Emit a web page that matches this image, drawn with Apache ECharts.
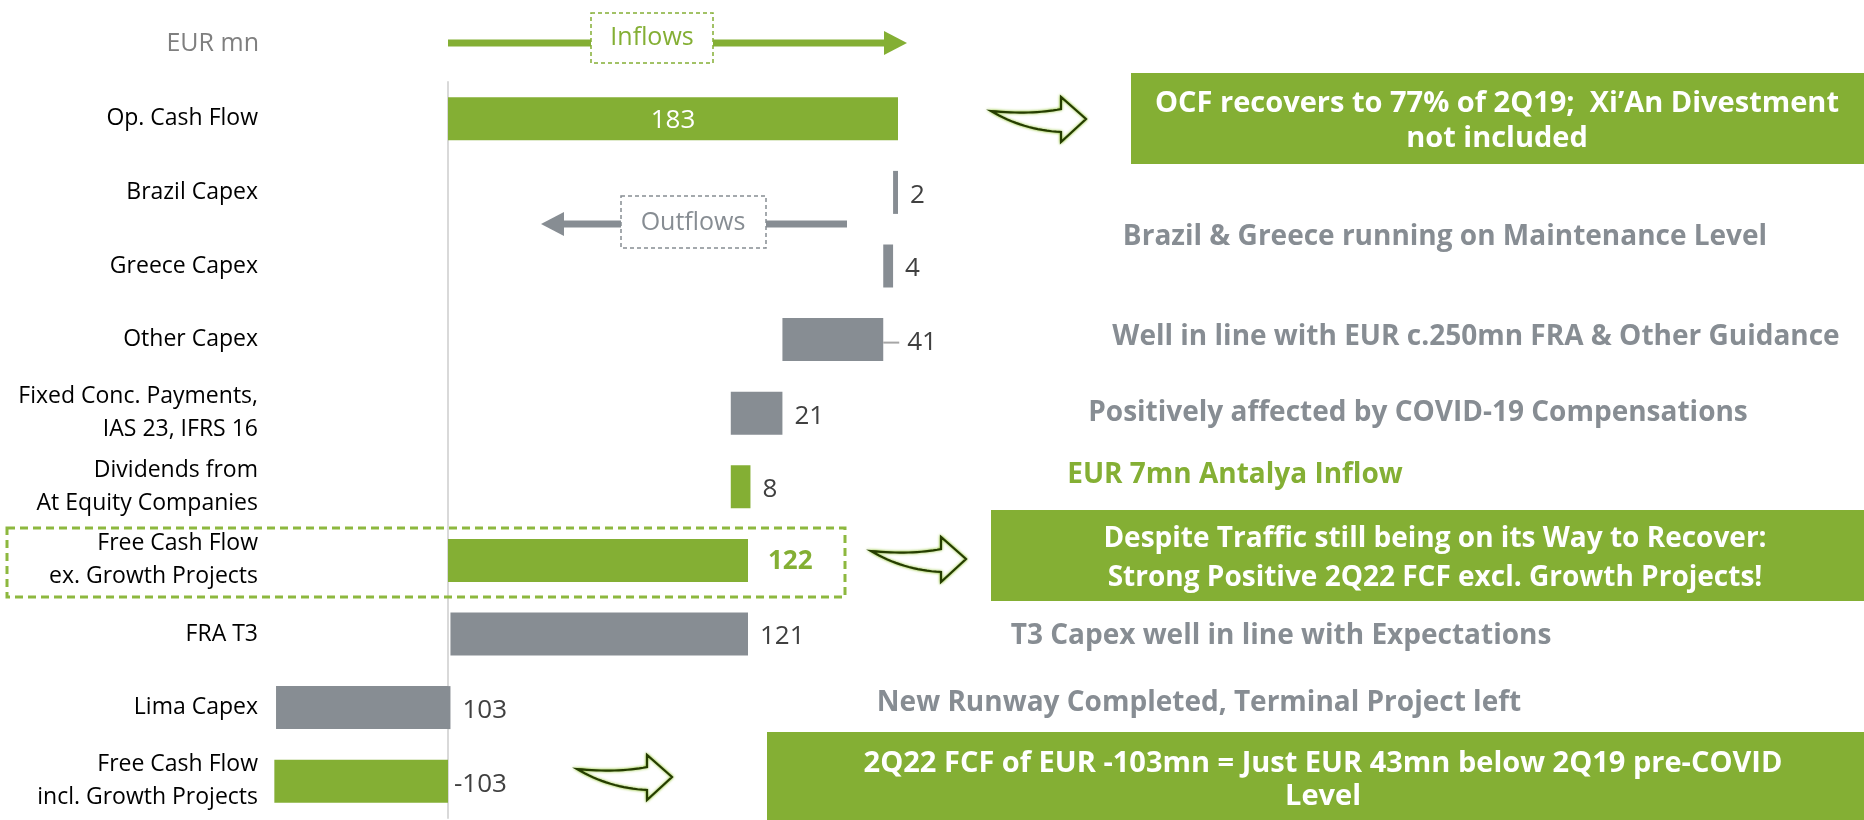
<!DOCTYPE html>
<html><head><meta charset="utf-8">
<script src="https://cdn.jsdelivr.net/npm/echarts@6/dist/echarts.min.js"></script>
<style>html,body{margin:0;padding:0;background:#fff}#c{width:1864px;height:820px}</style>
</head><body><div id="c"></div>
<script>
// ---------- data ----------
const categories = ['Op. Cash Flow', 'Brazil Capex', 'Greece Capex', 'Other Capex',
  'Fixed Conc. Payments,\nIAS 23, IFRS 16', 'Dividends from\nAt Equity Companies',
  'Free Cash Flow\nex. Growth Projects', 'FRA T3', 'Lima Capex', 'Free Cash Flow\nincl. Growth Projects'];
const values = [183, -2, -4, -41, -21, 8, 122, -121, -103, -103];
const isTotal = [true, false, false, false, false, false, true, false, false, true];
const valueLabels = ['183', '2', '4', '41', '21', '8', '122', '121', '103', '-103'];
const unitLabel = 'EUR mn';
const inflowText = 'Inflows';
const outflowText = 'Outflows';
const boxNotes = [
  'OCF recovers to 77% of 2Q19;  Xi\u2019An Divestment\nnot included',
  'Despite Traffic still being on its Way to Recover:\nStrong Positive 2Q22 FCF excl. Growth Projects!',
  '2Q22 FCF of EUR -103mn = Just EUR 43mn below 2Q19 pre-COVID\nLevel'
];
const grayNotes = [
  'Brazil & Greece running on Maintenance Level',
  'Well in line with EUR c.250mn FRA & Other Guidance',
  'Positively affected by COVID-19 Compensations',
  'T3 Capex well in line with Expectations',
  'New Runway Completed, Terminal Project left'
];
const greenNote = 'EUR 7mn Antalya Inflow';

// ---------- waterfall ranges ----------
const lows = [], highs = [];
let running = 0;
values.forEach((v, i) => {
  if (isTotal[i]) { lows.push(Math.min(0, v)); highs.push(Math.max(0, v)); running = v; }
  else { const s = running, e = running + v; lows.push(Math.min(s, e)); highs.push(Math.max(s, e)); running = e; }
});

// ---------- style ----------
const GREEN = '#84AF34', GRAY = '#878D93', TXT = '#404040', NOTE = '#878D93';
const FONT = '"Open Sans", "Noto Sans", sans-serif';
const AX = 448;           // zero line
const PXR = 2.459;        // px per unit (positive side)
const RMAX = 200;
const PXL = 1.686;        // px per unit (compressed negative side)
const LMIN = -120;
const TOP = 82, H = 736;
const VFS = 26;           // value label font size
const LOFF = [0, 3];

const colorOf = i => (isTotal[i] || values[i] > 0) ? GREEN : GRAY;

function labelFor(i) {
  if (i === 0) return { show: true, position: 'inside', offset: [0, 2], color: '#fff', fontSize: VFS, fontFamily: FONT, formatter: valueLabels[i] };
  if (isTotal[i] && values[i] > 0) return { show: true, position: 'right', distance: 20, offset: [0, 1], color: GREEN, fontWeight: 'bold', fontSize: 26, fontFamily: FONT, formatter: valueLabels[i] };
  if (categories[i] === 'Other Capex') return {
    show: true, position: 'right', distance: 0, offset: LOFF, fontFamily: FONT,
    formatter: '{ld|}{t|' + valueLabels[i] + '}',
    rich: { ld: { width: 16, height: 2, backgroundColor: '#A6A6A6' }, t: { color: TXT, fontSize: VFS, fontFamily: FONT, padding: [0, 0, 0, 8] } }
  };
  return { show: true, position: 'right', distance: isTotal[i] ? 6 : 12, offset: LOFF, color: TXT, fontSize: VFS, fontFamily: FONT, formatter: valueLabels[i] };
}

const baseR = [], barR = [], baseL = [], barL = [];
values.forEach((v, i) => {
  const lo = lows[i], hi = highs[i];
  const rLo = Math.max(lo, 0), rHi = Math.max(hi, 0);
  const lLo = Math.min(lo, 0), lHi = Math.min(hi, 0);
  const labelOnRight = hi > 0;
  if (rHi > rLo) {
    baseR.push(rLo);
    barR.push({ value: rHi - rLo, itemStyle: { color: colorOf(i) }, label: labelOnRight ? labelFor(i) : { show: false } });
  } else { baseR.push('-'); barR.push('-'); }
  if (lHi > lLo) {
    baseL.push(lHi);
    barL.push({ value: lLo - lHi, itemStyle: { color: colorOf(i) }, label: !labelOnRight ? labelFor(i) : { show: false } });
  } else { baseL.push('-'); barL.push('-'); }
});

// ---------- curved hollow arrow (outline polygon) ----------
function quad(p0, c, p1, n) {
  const pts = [];
  for (let k = 0; k <= n; k++) {
    const t = k / n, u = 1 - t;
    pts.push([u * u * p0[0] + 2 * u * t * c[0] + t * t * p1[0], u * u * p0[1] + 2 * u * t * c[1] + t * t * p1[1]]);
  }
  return pts;
}
function curvedArrow(x, y) {
  const pts = [].concat(
    quad([0, 14], [40, 18], [70, 12], 16),
    [[70, 0], [95, 22], [70, 45], [70, 35]],
    quad([70, 35], [32, 33], [0, 14], 16).slice(1)
  ).map(p => [p[0] + x, p[1] + y]);
  return { type: 'polygon', z: 10, shape: { points: pts },
    style: { fill: '#fff', stroke: '#253d00', lineWidth: 2.2, lineJoin: 'miter', shadowBlur: 3, shadowColor: '#8cbf2a' } };
}
const txt = (x, y, text, color, size, weight, align, lh) => ({
  type: 'text', x: x, y: y, z: 11,
  style: { text: text, fill: color, font: (weight || 'normal') + ' ' + size + 'px ' + FONT,
    align: align || 'center', textAlign: align || 'center', verticalAlign: 'middle', textVerticalAlign: 'middle',
    lineHeight: lh || Math.round(size * 1.3) }
});

const option = {
  backgroundColor: '#fff',
  animation: false,
  grid: [
    { left: AX, top: TOP, width: RMAX * PXR, height: H },
    { left: AX + LMIN * PXL, top: TOP, width: -LMIN * PXL, height: H }
  ],
  xAxis: [
    { gridIndex: 0, type: 'value', min: 0, max: RMAX, show: false },
    { gridIndex: 1, type: 'value', min: LMIN, max: 0, show: false }
  ],
  yAxis: [
    { gridIndex: 0, type: 'category', inverse: true, data: categories,
      axisLine: { show: true, lineStyle: { color: '#D9D9D9', width: 2 } }, axisTick: { show: false },
      axisLabel: { margin: 190, color: '#000', fontSize: 23, fontFamily: FONT, lineHeight: 33, align: 'right' } },
    { gridIndex: 1, type: 'category', inverse: true, data: categories, show: false }
  ],
  series: [
    { type: 'bar', xAxisIndex: 0, yAxisIndex: 0, stack: 'r', data: baseR, itemStyle: { color: 'transparent' }, barWidth: 43, silent: true },
    { type: 'bar', xAxisIndex: 0, yAxisIndex: 0, stack: 'r', data: barR, barWidth: 43 },
    { type: 'bar', xAxisIndex: 1, yAxisIndex: 1, stack: 'l', data: baseL, itemStyle: { color: 'transparent' }, barWidth: 43, silent: true },
    { type: 'bar', xAxisIndex: 1, yAxisIndex: 1, stack: 'l', data: barL, barWidth: 43 }
  ],
  graphic: [
    txt(259, 44, unitLabel, '#7F7F7F', 25, 'normal', 'right'),
    // inflows arrow
    { type: 'rect', shape: { x: 448, y: 39.5, width: 438, height: 7 }, style: { fill: GREEN } },
    { type: 'polygon', shape: { points: [[884, 31], [907, 43], [884, 55]] }, style: { fill: GREEN } },
    { type: 'rect', z: 5, shape: { x: 591, y: 13, width: 122, height: 50 }, style: { fill: '#fff', stroke: GREEN, lineWidth: 1.5, lineDash: [4, 3] } },
    txt(652, 38, inflowText, GREEN, 25),
    // outflows arrow
    { type: 'rect', shape: { x: 562, y: 220.5, width: 285, height: 7 }, style: { fill: GRAY } },
    { type: 'polygon', shape: { points: [[564, 212], [541, 224], [564, 236]] }, style: { fill: GRAY } },
    { type: 'rect', z: 5, shape: { x: 621, y: 196, width: 145, height: 52 }, style: { fill: '#fff', stroke: GRAY, lineWidth: 1.5, lineDash: [4, 3] } },
    txt(693, 223, outflowText, GRAY, 25),
    // FCF ex dashed frame
    { type: 'rect', z: 5, shape: { x: 7, y: 528, width: 838, height: 69 }, style: { fill: 'none', stroke: '#8DB83F', lineWidth: 3, lineDash: [8, 5] } },
    // green boxes
    { type: 'rect', shape: { x: 1131, y: 73, width: 733, height: 91 }, style: { fill: GREEN } },
    txt(1497, 121, boxNotes[0], '#fff', 29, 'bold', 'center', 35),
    { type: 'rect', shape: { x: 991, y: 510, width: 873, height: 91 }, style: { fill: GREEN } },
    txt(1435, 559, boxNotes[1], '#fff', 28, 'bold', 'center', 39),
    { type: 'rect', shape: { x: 767, y: 732, width: 1097, height: 88 }, style: { fill: GREEN } },
    txt(1323, 780, boxNotes[2], '#fff', 29, 'bold', 'center', 33),
    // gray notes
    txt(1445, 237, grayNotes[0], NOTE, 28, 'bold'),
    txt(1476, 337, grayNotes[1], NOTE, 28, 'bold'),
    txt(1418, 413, grayNotes[2], NOTE, 28, 'bold'),
    txt(1235, 475, greenNote, GREEN, 28, 'bold'),
    txt(1281, 636, grayNotes[3], NOTE, 28, 'bold'),
    txt(1199, 703, grayNotes[4], NOTE, 28, 'bold'),
    // curved arrows
    curvedArrow(991, 97),
    curvedArrow(871, 537),
    curvedArrow(577, 755)
  ]
};
const chart = echarts.init(document.getElementById('c'), null, { renderer: 'canvas' });
chart.setOption(option);
</script></body></html>
